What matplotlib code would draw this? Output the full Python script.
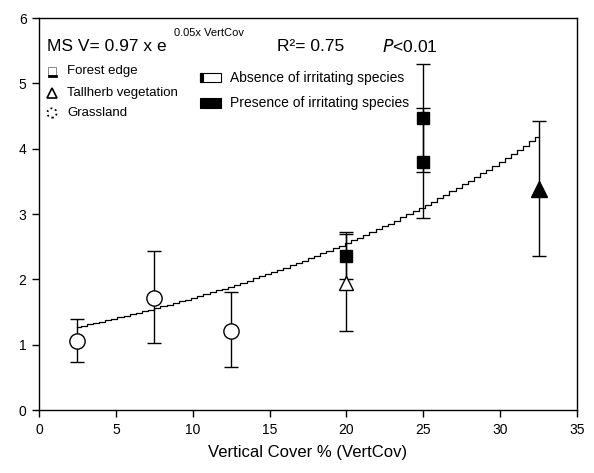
import numpy as np
import matplotlib
matplotlib.use("Agg")
import matplotlib.pyplot as plt
from matplotlib.patches import Rectangle

plt.rcParams['font.family'] = ['Liberation Sans', 'DejaVu Sans']

# Data: habitat, presence of irritating species, x, mean, lower, upper
grass_x = [2.5, 7.5, 12.5]
grass_y = [1.05, 1.72, 1.21]
grass_lo = [0.74, 1.02, 0.66]
grass_hi = [1.40, 2.43, 1.80]

tall_abs_x = [20]
tall_abs_y = [1.95]
tall_abs_lo = [1.21]
tall_abs_hi = [2.69]

tall_pres_x = [32.5]
tall_pres_y = [3.38]
tall_pres_lo = [2.35]
tall_pres_hi = [4.43]

forest_pres_x = [20, 25, 25]
forest_pres_y = [2.35, 4.47, 3.80]
forest_pres_lo = [2.00, 3.65, 2.94]
forest_pres_hi = [2.72, 5.30, 4.63]

# fitted curve parameters (as drawn)
fit_a = 1.15
fit_b = 0.0397
fit_xmin, fit_xmax = 2.5, 32.5

xticks = [0, 5, 10, 15, 20, 25, 30, 35]
yticks = [0, 1, 2, 3, 4, 5, 6]

W, H = 594, 473
fig = plt.figure(figsize=(W/100, H/100), dpi=100)
ax = fig.add_axes([39/W, 1-410/H, (577-39)/W, (410-18)/H])
ax.set_xlim(0, 35)
ax.set_ylim(0, 6)

# curve (stepped)
xs = np.linspace(fit_xmin, fit_xmax, 76)
ys = fit_a*np.exp(fit_b*xs)
ax.plot(xs, ys, color='black', lw=0.9, drawstyle='steps-mid', zorder=2)

def errs(x, y, lo, hi, marker, mfc, ms):
    y = np.array(y); lo = np.array(lo); hi = np.array(hi)
    ax.errorbar(x, y, yerr=[y-lo, hi-y], fmt='none', ecolor='black',
                elinewidth=1.0, capsize=5, capthick=1.0, zorder=3)
    ax.plot(x, y, linestyle='none', marker=marker, mfc=mfc, mec='black',
            ms=ms, mew=1.0, zorder=4)

errs(grass_x, grass_y, grass_lo, grass_hi, 'o', 'white', 11)
errs(tall_abs_x, tall_abs_y, tall_abs_lo, tall_abs_hi, '^', 'white', 10)
errs(forest_pres_x, forest_pres_y, forest_pres_lo, forest_pres_hi, 's', 'black', 9)
errs(tall_pres_x, tall_pres_y, tall_pres_lo, tall_pres_hi, '^', 'black', 12)

ax.set_xticks(xticks)
ax.set_yticks(yticks)
ax.tick_params(axis='both', direction='out', length=5, width=1, labelsize=10, pad=4)
ax.tick_params(top=False, right=False)
for s in ax.spines.values():
    s.set_linewidth(1.0)
ax.set_xlabel('Vertical Cover % (VertCov)', fontsize=12, labelpad=6)

def px(x, y):
    return (x-39)/(577-39), (410-y)/(410-18)

tr = ax.transAxes
# equation
ax.text(*px(47, 46), 'MS V= 0.97 x e', transform=tr, fontsize=12.5, va='center', ha='left')
ax.text(*px(174, 33), '0.05x VertCov', transform=tr, fontsize=8, va='center', ha='left')
ax.text(*px(277, 46), 'R²= 0.75', transform=tr, fontsize=12.5, va='center', ha='left')
ax.text(*px(382, 46), r'$\it{P}$<0.01', transform=tr, fontsize=12.5, va='center', ha='left')

# legend 1 (habitat)
ax.plot(*px(52, 71), marker='s', ms=6, mfc='white', mec='#888888', mew=0.7, transform=tr, clip_on=False)
ax.plot([px(49, 76)[0], px(56, 76)[0]], [px(49, 76)[1]]*2, color='black', lw=2, transform=tr, clip_on=False)
ax.plot(*px(52, 93), marker='^', ms=7, mfc='white', mec='black', mew=1.2, transform=tr, clip_on=False)
cx, cy = px(52, 113)
ax.scatter([cx], [cy], s=45, marker='o', facecolors='white', edgecolors='black',
           linewidths=1.3, linestyles=':', transform=tr, clip_on=False, zorder=5)
ax.text(*px(67, 71), 'Forest edge', transform=tr, fontsize=9.5, va='center')
ax.text(*px(67, 93), 'Tallherb vegetation', transform=tr, fontsize=9.5, va='center')
ax.text(*px(67, 113), 'Grassland', transform=tr, fontsize=9.5, va='center')

# legend 2 (irritating species)
x0, y0 = px(200, 82)
x1, y1 = px(221, 73)
ax.add_patch(Rectangle((x0, y0), x1-x0, y1-y0, transform=tr, fc='white', ec='black', lw=0.8, clip_on=False))
xa, _ = px(203, 0)
ax.add_patch(Rectangle((x0, y0), xa-x0, y1-y0, transform=tr, fc='black', ec='black', lw=0.8, clip_on=False))
x0, y0 = px(200, 108)
x1, y1 = px(221, 98)
ax.add_patch(Rectangle((x0, y0), x1-x0, y1-y0, transform=tr, fc='black', ec='black', lw=0.8, clip_on=False))
ax.text(*px(230, 78), 'Absence of irritating species', transform=tr, fontsize=10, va='center')
ax.text(*px(230, 103), 'Presence of irritating species', transform=tr, fontsize=10, va='center')

fig.savefig('out.png', dpi=100)
